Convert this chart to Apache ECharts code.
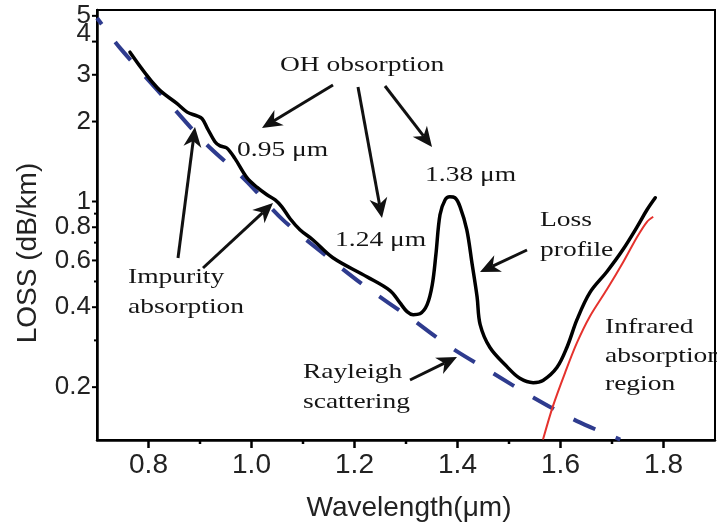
<!DOCTYPE html>
<html><head><meta charset="utf-8">
<script src="https://cdn.jsdelivr.net/npm/echarts@6/dist/echarts.min.js"></script>
<style>html,body{margin:0;padding:0;background:#fff}#c{width:717px;height:526px}</style>
</head><body><div id="c"></div>
<script>
// ---- data ----
const xTickValues = [0.8, 0.9, 1.0, 1.1, 1.2, 1.3, 1.4, 1.5, 1.6, 1.7, 1.8];
const xTickLabels = ['0.8', '', '1.0', '', '1.2', '', '1.4', '', '1.6', '', '1.8'];
const yTickValues = [0.2, 0.3, 0.4, 0.5, 0.6, 0.7, 0.8, 0.9, 1, 2, 3, 4, 5];
const yTickLabels = ['0.2', '', '0.4', '', '0.6', '', '0.8', '', '1', '2', '3', '4', '5'];

const lossWavelength = [0.764,0.817,0.855,0.875,0.894,0.904,0.914,0.929,0.939,0.952,0.968,0.991,1.011,1.030,1.046,1.059,1.075,1.094,1.119,1.158,1.224,1.269,1.288,1.302,1.314,1.327,1.341,1.351,1.358,1.366,1.376,1.385,1.395,1.405,1.418,1.428,1.438,1.444,1.463,1.496,1.521,1.547,1.566,1.593,1.613,1.632,1.657,1.690,1.721,1.749,1.768,1.784];
const lossValues = [3.65,2.68,2.34,2.17,2.10,2.05,1.89,1.68,1.62,1.59,1.45,1.23,1.13,1.06,1.015,0.955,0.861,0.783,0.718,0.614,0.521,0.462,0.416,0.385,0.375,0.378,0.409,0.486,0.630,0.891,1.015,1.041,1.033,0.955,0.783,0.588,0.438,0.344,0.282,0.239,0.216,0.208,0.212,0.237,0.284,0.359,0.454,0.544,0.658,0.804,0.931,1.033];

const rayleighWavelength = [0.700,0.745,0.838,0.910,0.987,1.061,1.147,1.224,1.308,1.385,1.467,1.547,1.632,1.716];
const rayleighValues = [4.91,3.78,2.37,1.66,1.21,0.853,0.620,0.474,0.365,0.284,0.227,0.183,0.149,0.127];

const infraredWavelength = [1.566,1.585,1.609,1.632,1.657,1.690,1.721,1.749,1.768,1.780];
const infraredValues = [0.127,0.169,0.227,0.294,0.369,0.466,0.588,0.737,0.839,0.876];

const X_MIN = 0.7, X_MAX = 1.9, Y_MIN = 0.1265, Y_MAX = 5.26;

// ---- helpers ----
const zip = (a, b) => a.map((v, i) => [v, b[i]]);
const SERIF = '"Liberation Serif","Times New Roman",serif';
const SANS = '"Liberation Sans",Arial,sans-serif';
const yLabelShift = { '4': -8 };

function note(text, x, y) {
  return { type: 'text', x: x, y: y, scaleX: 1.25, z: 100,
    style: { text: text, font: '22px ' + SERIF, fill: '#151515', align: 'left', verticalAlign: 'middle' } };
}
function arrow(x1, y1, x2, y2) {
  const dx = x2 - x1, dy = y2 - y1, len = Math.hypot(dx, dy);
  const ux = dx / len, uy = dy / len, nx = -uy, ny = ux;
  const L = 20, W = 9, N = 6;
  const bx = x2 - ux * L, by = y2 - uy * L;
  const mx = x2 - ux * (L - N), my = y2 - uy * (L - N);
  return { type: 'group', z: 100, children: [
    { type: 'line', shape: { x1: x1, y1: y1, x2: mx, y2: my }, style: { stroke: '#111', lineWidth: 3 } },
    { type: 'polygon', shape: { points: [[x2, y2], [bx + nx * W, by + ny * W], [mx, my], [bx - nx * W, by - ny * W]] },
      style: { fill: '#111' } }
  ]};
}

const chart = echarts.init(document.getElementById('c'), null, { renderer: 'canvas' });
chart.setOption({
  animation: false,
  backgroundColor: '#fff',
  grid: { left: 97, right: 2, top: 10, bottom: 86, show: true, borderColor: '#000', borderWidth: 2, backgroundColor: 'transparent' },
  xAxis: { type: 'value', min: X_MIN, max: X_MAX,
    axisLine: { show: true, lineStyle: { color: '#000', width: 2.5 } },
    axisTick: { show: false }, axisLabel: { show: false }, splitLine: { show: false } },
  yAxis: { type: 'log', logBase: 10, min: Y_MIN, max: Y_MAX,
    axisLine: { show: true, lineStyle: { color: '#000', width: 2.5 } },
    axisTick: { show: false }, axisLabel: { show: false }, splitLine: { show: false }, minorSplitLine: { show: false } },
  series: [
    { name: 'Rayleigh scattering', type: 'line', data: zip(rayleighWavelength, rayleighValues), smooth: 0.3,
      showSymbol: false, lineStyle: { color: '#2E3B8E', width: 4, type: [24, 22], dashOffset: 16 }, z: 2 },
    { name: 'Infrared absorption', type: 'line', data: zip(infraredWavelength, infraredValues), smooth: 0.3,
      showSymbol: false, lineStyle: { color: '#E5322D', width: 2 }, z: 3 },
    { name: 'Loss profile', type: 'line', data: zip(lossWavelength, lossValues), smooth: 0.35,
      showSymbol: false, lineStyle: { color: '#000', width: 3.5, cap: 'round', join: 'round' }, z: 4 },
    { name: 'yTicks', type: 'custom', clip: false, silent: true, z: 10,
      data: yTickValues.map(v => [X_MIN, v]),
      renderItem: function (params, api) {
        const p = api.coord([api.value(0), api.value(1)]);
        const lab = yTickLabels[params.dataIndex];
        const len = lab ? 5 : 3;
        const children = [{ type: 'line', shape: { x1: p[0] - len, y1: p[1], x2: p[0], y2: p[1] },
          style: { stroke: '#000', lineWidth: 2 } }];
        if (lab) children.push({ type: 'text', x: p[0] - 6, y: p[1] + (yLabelShift[lab] || 0),
          style: { text: lab, font: '26px ' + SANS, fill: '#222', align: 'right', verticalAlign: 'middle' } });
        return { type: 'group', children: children };
      } },
    { name: 'xTicks', type: 'custom', clip: false, silent: true, z: 10,
      data: xTickValues.map(v => [v, Y_MIN]),
      renderItem: function (params, api) {
        const p = api.coord([api.value(0), api.value(1)]);
        const lab = xTickLabels[params.dataIndex];
        const len = lab ? 8 : 4;
        const children = [{ type: 'line', shape: { x1: p[0], y1: p[1], x2: p[0], y2: p[1] + len },
          style: { stroke: '#000', lineWidth: 2.5 } }];
        if (lab) children.push({ type: 'text', x: p[0], y: p[1] + 25,
          style: { text: lab, font: '28px ' + SANS, fill: '#222', align: 'center', verticalAlign: 'middle' } });
        return { type: 'group', children: children };
      } }
  ],
  graphic: [
    { type: 'text', x: 28, y: 253, rotation: Math.PI / 2,
      style: { text: 'LOSS (dB/km)', font: '28px ' + SANS, fill: '#222', align: 'center', verticalAlign: 'middle' } },
    { type: 'text', x: 409, y: 508,
      style: { text: 'Wavelength(μm)', font: '28px ' + SANS, fill: '#222', align: 'center', verticalAlign: 'middle' } },
    note('OH obsorption', 280, 65),
    note('0.95 μm', 237, 150),
    note('1.24 μm', 335, 240),
    note('1.38 μm', 425, 175),
    note('Loss', 540, 220),
    note('profile', 540, 250),
    note('Impurity', 128, 277),
    note('absorption', 128, 307),
    note('Rayleigh', 303, 372),
    note('scattering', 303, 402),
    note('Infrared', 605, 327),
    note('absorption', 605, 356),
    note('region', 605, 384),
    arrow(333, 85, 262, 128),
    arrow(358, 87, 382, 218),
    arrow(385, 86, 432, 147),
    arrow(527, 250, 480, 272),
    arrow(410, 380, 457, 357),
    arrow(178, 258, 195, 127),
    arrow(203, 268, 273, 203)
  ]
});
</script>
</body></html>
